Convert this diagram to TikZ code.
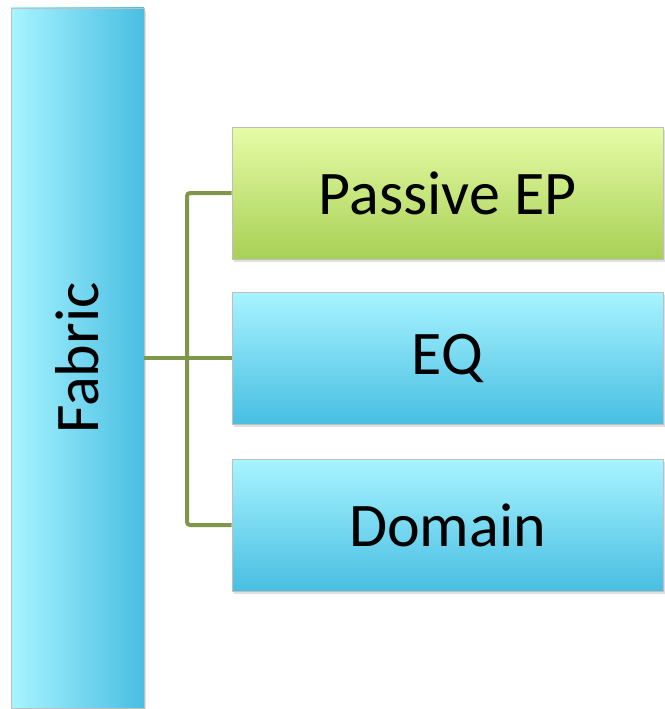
\documentclass[tikz,border=0pt]{standalone}
\usepackage{fontspec}
\setmainfont{Carlito}
\usetikzlibrary{shadows}

\definecolor{lightcyan}{RGB}{168,244,255}
\definecolor{deepcyan}{RGB}{72,190,226}
\definecolor{lightlime}{RGB}{230,252,166}
\definecolor{deeplime}{RGB}{168,208,86}
\definecolor{olive}{RGB}{128,150,74}

\tikzset{
  box/.style={draw=black!25, line width=.6pt, inner sep=0pt,
    drop shadow={opacity=.25, shadow xshift=2pt, shadow yshift=-3pt},
    font=\fontsize{62}{70}\selectfont},
  bluebox/.style={box, top color=lightcyan, bottom color=deepcyan},
  limebox/.style={box, top color=lightlime, bottom color=deeplime},
  link/.style={draw=olive, line width=4pt, rounded corners=3pt}
}

\begin{document}
\begin{tikzpicture}[x=1pt,y=-1pt]
\useasboundingbox (0,0) rectangle (664,709);

\node[box, left color=lightcyan, right color=deepcyan, minimum width=133pt, minimum height=700pt] (F) at (77.5,358) {\rotatebox{90}{Fabric}};

\node[limebox, minimum width=431pt, minimum height=132pt] (P) at (447.5,193) {Passive EP};
\node[bluebox, minimum width=431pt, minimum height=132pt] (E) at (447.5,358) {EQ};
\node[bluebox, minimum width=431pt, minimum height=132pt] (D) at (447.5,525) {Domain};

\coordinate (J) at (187,358);
\draw[link] (F.east) -- (E.west);
\draw[link] (P.west) -| (J) |- (D.west);
\end{tikzpicture}
\end{document}
